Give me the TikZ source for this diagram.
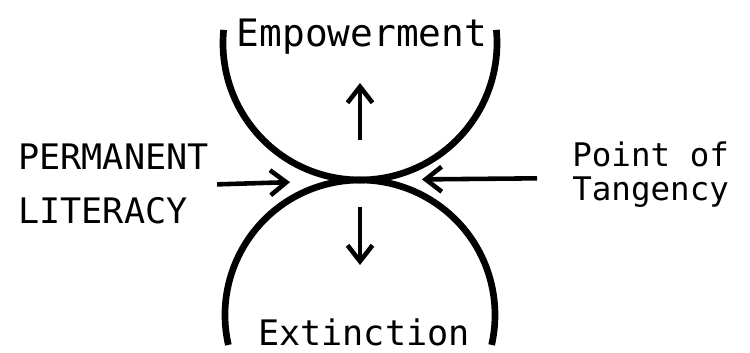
\documentclass[tikz,border=0pt]{standalone}
\usepackage{fontspec}
\setmonofont{DejaVu Sans Mono}
\usetikzlibrary{arrows.meta,positioning}

\begin{document}
\begin{tikzpicture}[
  x=0.02cm, y=0.02cm,
  font=\ttfamily\fontsize{20}{24}\selectfont,
  >={Straight Barb[length=3.2mm,width=5mm]},
  curve/.style={line width=3.8pt},
  arr/.style={->, line width=2.6pt},
  word/.style={inner sep=0pt},
]
\useasboundingbox (0,0) rectangle (750,352);

%-- the two circles touching at one point
\coordinate (tp)  at (360,172);
\coordinate (upc) at (360,309);
\coordinate (loc) at (360,37);

\draw[curve] (upc) ++(174.5:137) arc[start angle=174.5, end angle=365.5, radius=137];
\draw[curve] (loc) ++(192.8:135) arc[start angle=192.8, end angle=-12.8, radius=135];

%-- labels
\node[word, anchor=base, font=\ttfamily\fontsize{21.5}{24}\selectfont]
  (emp) at (362,305) {Empowerment};
\node[word, anchor=base] (ext) at (364,7) {Extinction};

\node[word, anchor=north west, align=left,
      font=\ttfamily\fontsize{20}{30.7}\selectfont]
  (perm) at (18,208) {PERMANENT\\LITERACY};
\node[word, anchor=north west, align=left,
      font=\ttfamily\fontsize{18.5}{19.5}\selectfont]
  (tang) at (572,211) {Point of\\Tangency};

%-- arrows
\draw[arr] ([yshift=0.8cm]tp) -- ([yshift=1.94cm]tp);
\draw[arr] ([yshift=-0.54cm]tp) -- ([yshift=-1.7cm]tp);
\draw[arr, shorten >=1.4cm]  ([xshift=0.16cm]perm.east) -- (tp);
\draw[arr, shorten >=1.24cm] ([xshift=-0.7cm,yshift=-0.08cm]tang.west) -- (tp);

\end{tikzpicture}
\end{document}
